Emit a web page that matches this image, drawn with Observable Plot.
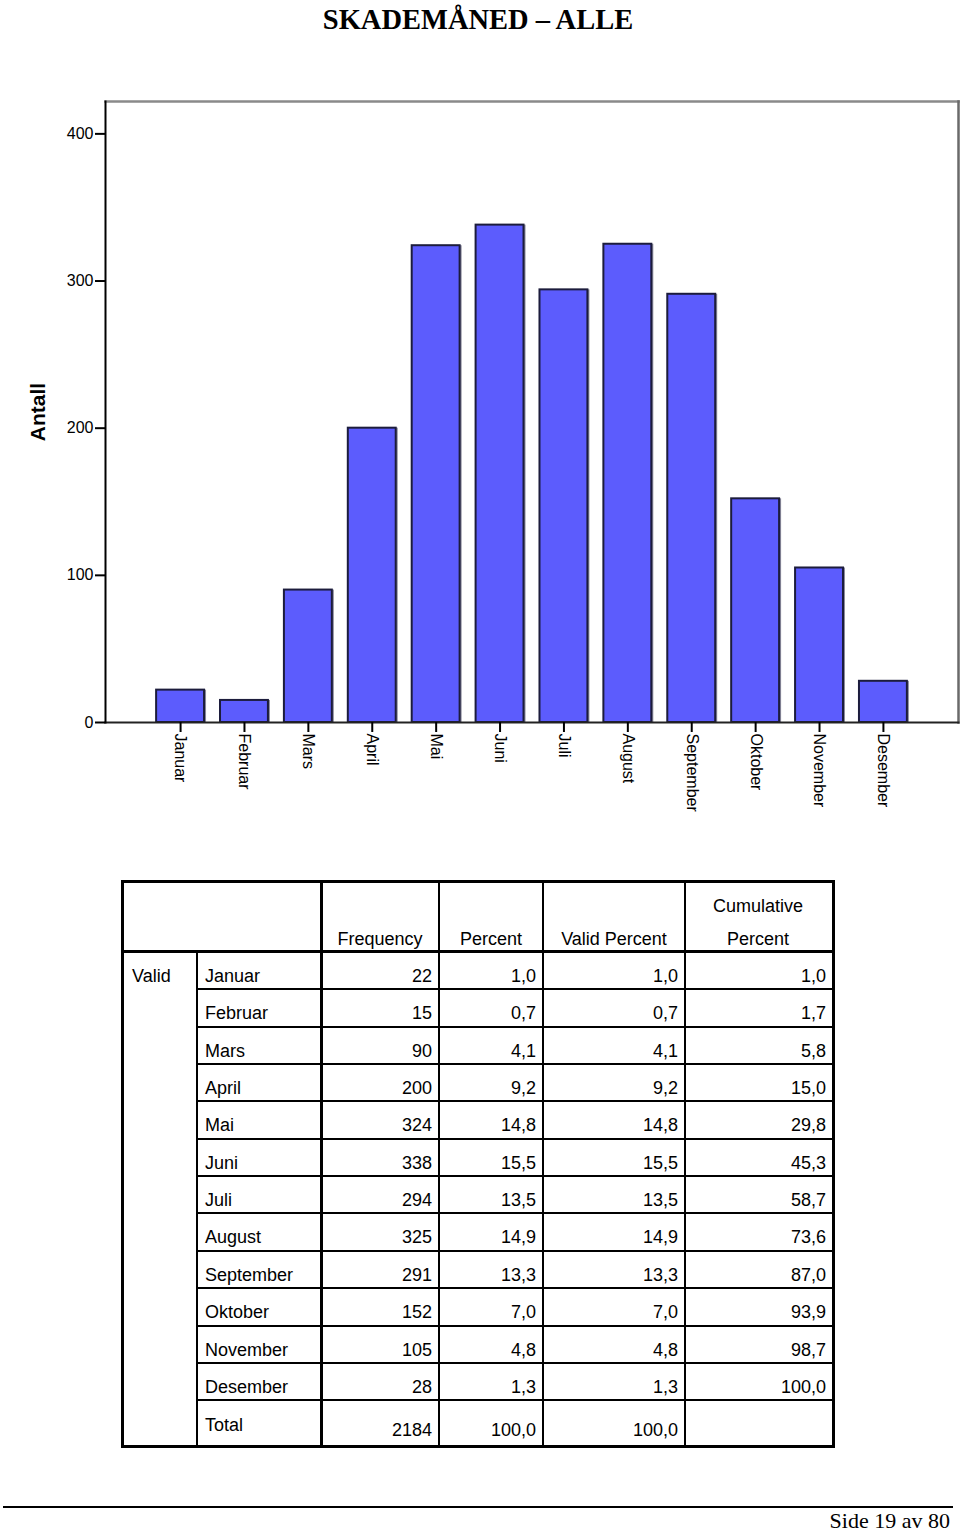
<!DOCTYPE html>
<html>
<head>
<meta charset="utf-8">
<script src="https://cdn.jsdelivr.net/npm/d3@7"></script>
<script src="https://cdn.jsdelivr.net/npm/@observablehq/plot@0.6"></script>
<style>
  body { margin: 0; background: #fff; }
  #page { position: relative; width: 960px; height: 1534px; overflow: hidden; background: #fff; }
  #title { position: absolute; left: 0; top: 0; width: 956px; text-align: center;
           font: bold 28.5px "Liberation Serif", "Times New Roman", serif; line-height: 40px; color: #000; }
  #chart { position: absolute; left: 0; top: 45px; }
  .t { position: absolute; font: 18px "Liberation Sans", Arial, sans-serif; line-height: 20px; white-space: nowrap; color: #000; }
  .ln { position: absolute; background: #000; }
  #footer { position: absolute; top: 1511px; right: 10px; font: 22px "Liberation Serif", "Times New Roman", serif; line-height: 20px; color: #000; }
</style>
</head>
<body>
<div id="page">
  <div id="title">SKADEMÅNED – ALLE</div>
  <div id="chart"></div>
  <div id="table"></div>
  <div class="ln" style="left:3px;top:1506px;width:950px;height:2px;"></div>
  <div id="footer">Side 19 av 80</div>
</div>
<script>
// ---- data ----
const months = ["Januar","Februar","Mars","April","Mai","Juni","Juli","August","September","Oktober","November","Desember"];
const frequency = [22, 15, 90, 200, 324, 338, 294, 325, 291, 152, 105, 28];
const percent = [1.0, 0.7, 4.1, 9.2, 14.8, 15.5, 13.5, 14.9, 13.3, 7.0, 4.8, 1.3];
const validPercent = [1.0, 0.7, 4.1, 9.2, 14.8, 15.5, 13.5, 14.9, 13.3, 7.0, 4.8, 1.3];
const cumulativePercent = [1.0, 1.7, 5.8, 15.0, 29.8, 45.3, 58.7, 73.6, 87.0, 93.9, 98.7, 100.0];
const totalFrequency = 2184;
const totalPercent = 100.0;
const totalValidPercent = 100.0;
const yTicks = [0, 100, 200, 300, 400];

// ---- chart ----
const data = months.map((m, i) => ({month: m, antall: frequency[i]}));
const chart = Plot.plot({
  width: 960,
  height: 790,
  marginTop: 56,
  marginBottom: 113,
  marginLeft: 105,
  marginRight: 2,
  style: {fontFamily: "'Liberation Sans', Arial, sans-serif", fontSize: "16px", color: "#000", background: "transparent"},
  x: {domain: months, paddingInner: 0.25, paddingOuter: 0.8, round: false, label: null},
  y: {domain: [0, 422], label: null},
  marks: [
    Plot.frame({anchor: "top", stroke: "#8a8a8a", strokeWidth: 2.5}),
    Plot.frame({anchor: "right", stroke: "#6a6a6a", strokeWidth: 2.5}),
    Plot.barY(data, {x: "month", y: "antall", fill: "#8a8a9a", dx: 2}),
    Plot.barY(data, {x: "month", y: "antall", fill: "#5c5cfd", stroke: "#1c1c3c", strokeWidth: 2}),
    Plot.frame({anchor: "bottom", stroke: "#222", strokeWidth: 2}),
    Plot.frame({anchor: "left", stroke: "#000", strokeWidth: 2}),
    Plot.axisY({ticks: yTicks, tickSize: 10, tickPadding: 2, fontSize: 16, label: null, strokeWidth: 2}),
    Plot.axisX({tickRotate: 90, tickSize: 10, tickPadding: 1, fontSize: 16, label: null, strokeWidth: 2}),
    Plot.text(["Antall"], {frameAnchor: "left", dx: -67, rotate: -90, textAnchor: "middle", fontWeight: "bold", fontSize: 21})
  ]
});
document.getElementById("chart").appendChild(chart);

// ---- table ----
const fmt = v => d3.format(".1f")(v).replace(".", ",");
const page = document.getElementById("page");
function line(x, y, w, h) {
  const d = document.createElement("div");
  d.className = "ln";
  Object.assign(d.style, {left: x + "px", top: y + "px", width: w + "px", height: h + "px"});
  page.appendChild(d);
}
function text(s, x, cy, align) {
  const d = document.createElement("div");
  d.className = "t";
  d.textContent = s;
  d.style.top = (cy - 10) + "px";
  if (align === "right") d.style.right = (960 - x) + "px";
  else if (align === "center") { d.style.left = (x - 100) + "px"; d.style.width = "200px"; d.style.textAlign = "center"; }
  else d.style.left = x + "px";
  page.appendChild(d);
}
const rowTop = i => 951 + 37.35 * i;
// outer borders
line(121, 880, 714, 3);
line(121, 1445, 714, 3);
line(121, 880, 3, 568);
line(832, 880, 3, 568);
line(121, 950, 714, 3);
line(320, 880, 3, 568);
// thin verticals
line(196, 951, 2, 495);
[438, 542, 684].forEach(x => line(x, 881, 2, 566));
// thin horizontals
for (let i = 1; i <= months.length; i++) line(197, Math.round(rowTop(i)), 636, 2);
// header
text("Frequency", 380, 939, "center");
text("Percent", 491, 939, "center");
text("Valid Percent", 614, 939, "center");
text("Cumulative", 758, 906, "center");
text("Percent", 758, 939, "center");
text("Valid", 132, 976, "left");
months.forEach((m, i) => {
  const cy = rowTop(i) + 25;
  text(m, 205, cy, "left");
  text(String(frequency[i]), 432, cy, "right");
  text(fmt(percent[i]), 536, cy, "right");
  text(fmt(validPercent[i]), 678, cy, "right");
  text(fmt(cumulativePercent[i]), 826, cy, "right");
});
text("Total", 205, 1425, "left");
text(String(totalFrequency), 432, 1430, "right");
text(fmt(totalPercent), 536, 1430, "right");
text(fmt(totalValidPercent), 678, 1430, "right");
</script>
</body>
</html>
